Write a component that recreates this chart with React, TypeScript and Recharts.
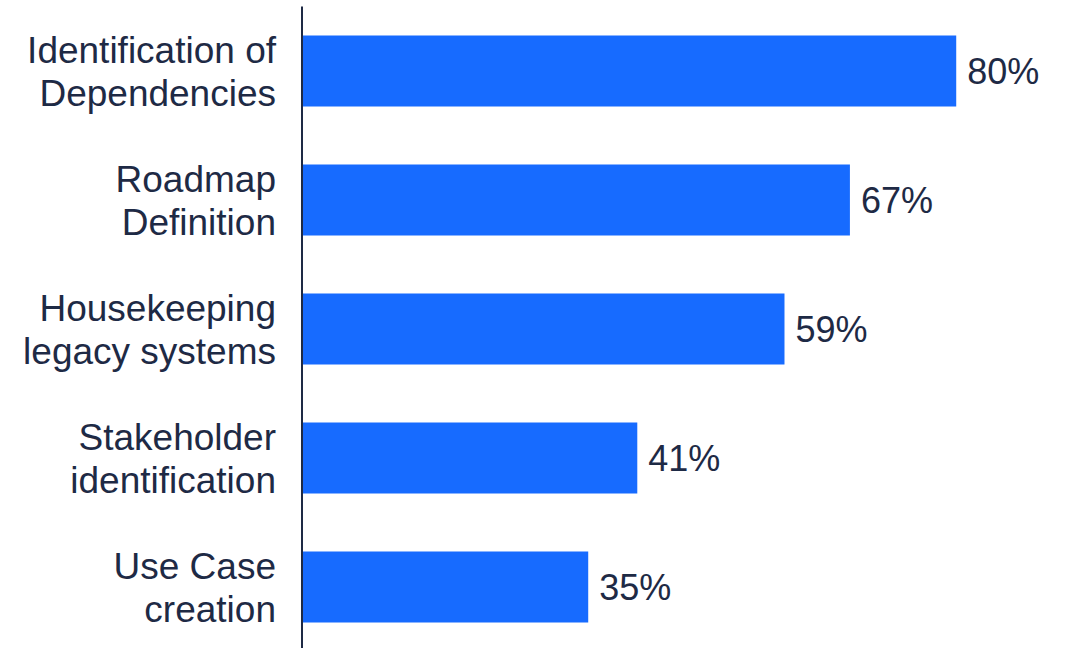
import { BarChart, Bar, XAxis, YAxis, LabelList } from 'recharts';

const categories = [
  ['Identification of', 'Dependencies'],
  ['Roadmap', 'Definition'],
  ['Housekeeping', 'legacy systems'],
  ['Stakeholder', 'identification'],
  ['Use Case', 'creation'],
];
const shares = [80, 67, 59, 41, 35];

const data = categories.map((lines, i) => ({ name: lines.join(' '), lines, value: shares[i] }));

const TEXT = '#1e2a45';
const BLUE = '#176bff';

function CategoryTick(props: any) {
  const { x, y, payload, index } = props;
  const lines = categories[index] ?? [payload.value];
  return (
    <text x={x} y={y} textAnchor="end" fill={TEXT} fontSize={37} fontFamily="'Liberation Sans', Arial, sans-serif">
      {lines.map((l: string, i: number) => (
        <tspan key={i} x={x} dy={i === 0 ? -8 : 43}>
          {l}
        </tspan>
      ))}
    </text>
  );
}

export default function App() {
  return (
    <div style={{ position: 'absolute', left: 0, top: 0, width: 1071, height: 648, overflow: 'hidden', background: '#fff' }}>
      <BarChart
        width={1071}
        height={660}
        data={data}
        layout="vertical"
        margin={{ top: 6.5, right: 33, left: 0, bottom: 8.5 }}
      >
        <XAxis type="number" domain={[0, 90]} hide />
        <YAxis
          type="category"
          dataKey="name"
          width={302}
          axisLine={{ stroke: TEXT, strokeWidth: 2 }}
          tickLine={false}
          tickSize={0}
          tickMargin={26}
          tick={<CategoryTick />}
        />
        <Bar dataKey="value" fill={BLUE} barSize={71} isAnimationActive={false}>
          <LabelList
            dataKey="value"
            position="right"
            offset={11}
            formatter={(v: any) => `${v}%`}
            fill={TEXT}
            fontSize={36}
            fontFamily="'Liberation Sans', Arial, sans-serif"
          />
        </Bar>
      </BarChart>
    </div>
  );
}
